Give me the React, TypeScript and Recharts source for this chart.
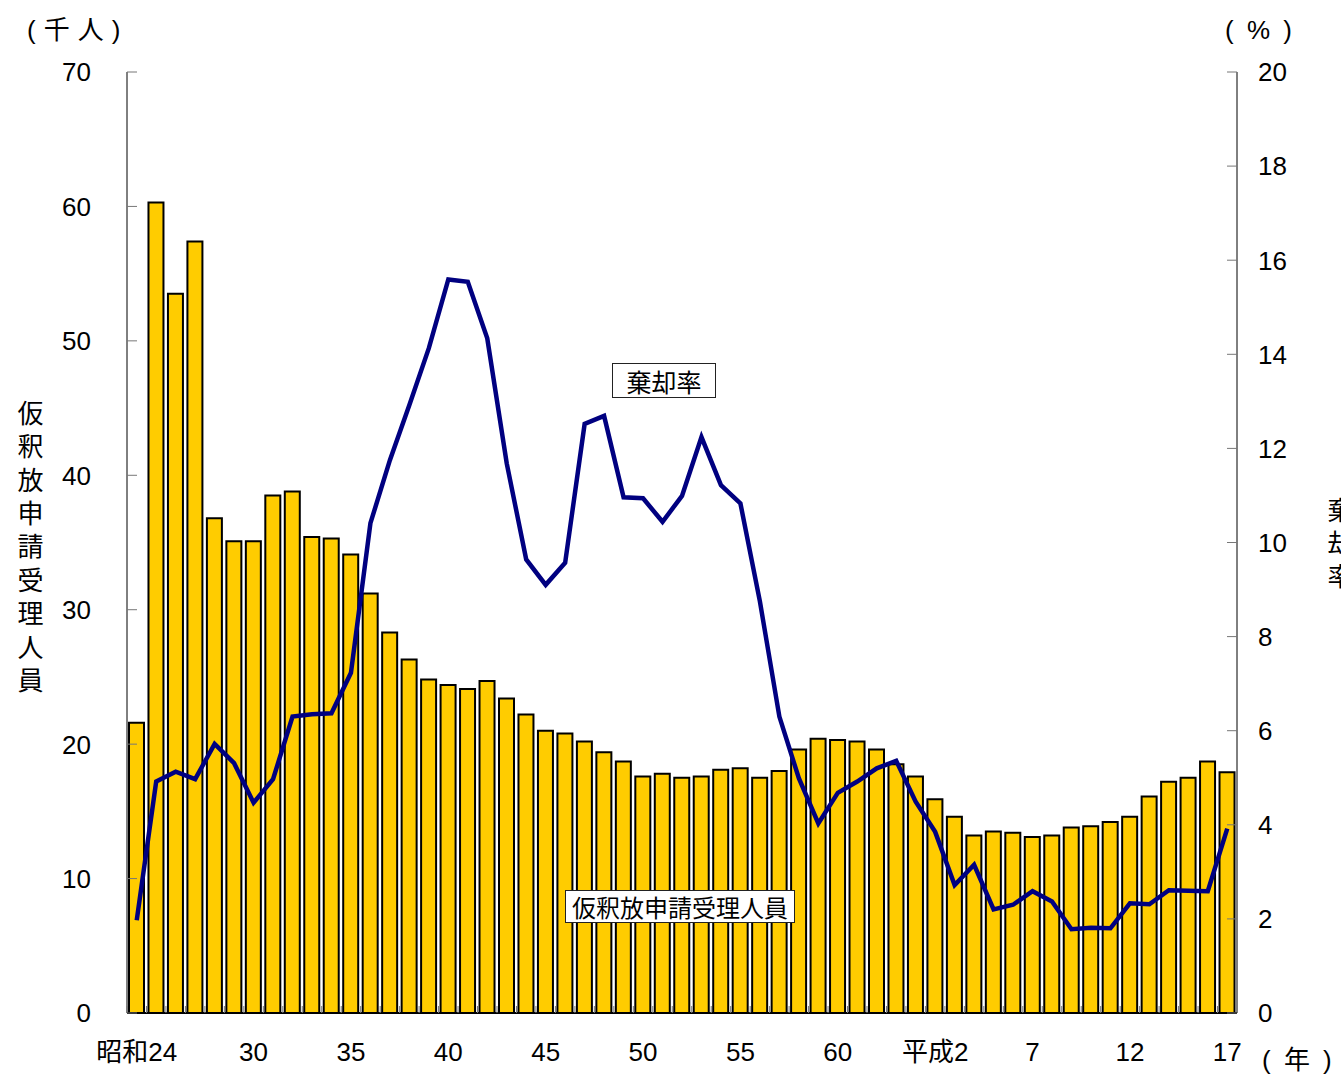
import React from 'react'
import { ComposedChart, Bar, Line, XAxis, YAxis } from 'recharts'

const years = [
    '昭和24', '昭和25', '昭和26', '昭和27', '昭和28', '昭和29', '昭和30', '昭和31', '昭和32', '昭和33',
    '昭和34', '昭和35', '昭和36', '昭和37', '昭和38', '昭和39', '昭和40', '昭和41', '昭和42', '昭和43',
    '昭和44', '昭和45', '昭和46', '昭和47', '昭和48', '昭和49', '昭和50', '昭和51', '昭和52', '昭和53',
    '昭和54', '昭和55', '昭和56', '昭和57', '昭和58', '昭和59', '昭和60', '昭和61', '昭和62', '昭和63',
    '平成元', '平成2', '平成3', '平成4', '平成5', '平成6', '平成7', '平成8', '平成9', '平成10',
    '平成11', '平成12', '平成13', '平成14', '平成15', '平成16', '平成17',
]

// 仮釈放申請受理人員 (千人)
const applicants = [
    21.6, 60.3, 53.5, 57.4, 36.8, 35.1, 35.1, 38.5, 38.8, 35.4,
    35.3, 34.1, 31.2, 28.3, 26.3, 24.8, 24.4, 24.1, 24.7, 23.4,
    22.2, 21.0, 20.8, 20.2, 19.4, 18.7, 17.6, 17.8, 17.5, 17.6,
    18.1, 18.2, 17.5, 18.0, 19.6, 20.4, 20.3, 20.2, 19.6, 18.5,
    17.6, 15.9, 14.6, 13.2, 13.5, 13.4, 13.1, 13.2, 13.8, 13.9,
    14.2, 14.6, 16.1, 17.2, 17.5, 18.7, 17.9,
]

// 棄却率 (%)
const rejectionRate = [
    1.97, 4.92, 5.13, 4.97, 5.72, 5.31, 4.47, 4.97, 6.30, 6.35,
    6.37, 7.23, 10.41, 11.75, 12.92, 14.13, 15.59, 15.54, 14.34, 11.68,
    9.64, 9.10, 9.57, 12.52, 12.69, 10.96, 10.94, 10.44, 10.99, 12.24,
    11.22, 10.83, 8.75, 6.30, 4.99, 4.03, 4.68, 4.92, 5.20, 5.36,
    4.49, 3.85, 2.72, 3.15, 2.20, 2.30, 2.59, 2.37, 1.78, 1.81,
    1.80, 2.33, 2.31, 2.61, 2.60, 2.59, 3.92,
]

const labelYears = ['昭和24', '昭和30', '昭和35', '昭和40', '昭和45', '昭和50', '昭和55', '昭和60', '平成2', '平成7', '平成12', '平成17']
const labelTexts = ['昭和24', '30', '35', '40', '45', '50', '55', '60', '平成2', '7', '12', '17']

const leftTicks = [0, 10, 20, 30, 40, 50, 60, 70]
const rightTicks = [0, 2, 4, 6, 8, 10, 12, 14, 16, 18, 20]

const data = years.map((year, i) => ({ year, applicants: applicants[i], rate: rejectionRate[i] }))

const FONT = "'Liberation Sans', Arial, 'Noto Sans CJK JP', sans-serif"
const X_MARGIN = 30
const Y_MARGIN = 36
const R_MARGIN = 21

const XTick = (props: any) => {
    const { x, y, payload } = props
    const idx = labelYears.indexOf(payload.value)
    const half = payload.offset || 0
    const axisY = y - X_MARGIN
    return (
        <g>
            <line x1={x - half} x2={x - half} y1={axisY} y2={axisY - 7} stroke="#777" />
            {idx >= 0 && (
                <text x={x} y={y} dy="0.71em" textAnchor="middle" fill="#000" fontSize={26} fontFamily={FONT}>
                    {labelTexts[idx]}
                </text>
            )}
        </g>
    )
}

const LeftTick = (props: any) => {
    const { x, y, payload } = props
    return (
        <g>
            <line x1={x + Y_MARGIN} x2={x + Y_MARGIN + 10} y1={y} y2={y} stroke="#777" />
            <text x={x} y={y} dy="0.36em" textAnchor="end" fill="#000" fontSize={26} fontFamily={FONT}>
                {payload.value}
            </text>
        </g>
    )
}

const RightTick = (props: any) => {
    const { x, y, payload } = props
    return (
        <g>
            <line x1={x - R_MARGIN - 10} x2={x - R_MARGIN} y1={y} y2={y} stroke="#777" />
            <text x={x} y={y} dy="0.36em" textAnchor="start" fill="#000" fontSize={26} fontFamily={FONT}>
                {payload.value}
            </text>
        </g>
    )
}

const boxLabel: React.CSSProperties = {
    position: 'absolute',
    border: '1.5px solid #222',
    background: '#fff',
    display: 'flex',
    alignItems: 'center',
    justifyContent: 'center',
    boxSizing: 'border-box',
    whiteSpace: 'nowrap',
}

export default function App() {
    return (
        <div style={{ position: 'relative', width: 1341, height: 1074, overflow: 'hidden', background: '#fff', fontFamily: FONT, color: '#000' }}>
            <style>{'body{margin:0;overflow:hidden}'}</style>
            <ComposedChart width={1341} height={1074} data={data} margin={{ top: 72, right: 0, bottom: 0, left: 0 }}>
                <XAxis
                    dataKey="year"
                    xAxisId="x"
                    height={61}
                    interval={0}
                    tickSize={0}
                    tickMargin={X_MARGIN}
                    tick={<XTick />}
                    axisLine={{ stroke: '#000', strokeWidth: 2 }}
                    tickLine={false}
                />
                <YAxis
                    yAxisId="left"
                    orientation="left"
                    width={127}
                    domain={[0, 70]}
                    ticks={leftTicks}
                    tickSize={0}
                    tickMargin={Y_MARGIN}
                    tick={<LeftTick />}
                    axisLine={{ stroke: '#000' }}
                    tickLine={false}
                />
                <YAxis
                    yAxisId="right"
                    orientation="right"
                    width={104}
                    domain={[0, 20]}
                    ticks={rightTicks}
                    tickSize={0}
                    tickMargin={R_MARGIN}
                    tick={<RightTick />}
                    axisLine={{ stroke: '#000' }}
                    tickLine={false}
                />
                <Bar
                    xAxisId="x"
                    yAxisId="left"
                    dataKey="applicants"
                    barSize={15}
                    fill="#FFCC00"
                    stroke="#000"
                    strokeWidth={2}
                    isAnimationActive={false}
                />
                <Line
                    xAxisId="x"
                    yAxisId="right"
                    dataKey="rate"
                    type="linear"
                    stroke="#000080"
                    strokeWidth={4.5}
                    dot={false}
                    isAnimationActive={false}
                />
            </ComposedChart>

            <div style={{ position: 'absolute', left: 27, top: 17, fontSize: 26, lineHeight: '26px', letterSpacing: 8 }}>(千人)</div>
            <div style={{ position: 'absolute', left: 1225, top: 17, fontSize: 26, lineHeight: '26px', letterSpacing: 3 }}>( % )</div>
            <div style={{ position: 'absolute', left: 1262, top: 1047, fontSize: 26, lineHeight: '26px', letterSpacing: 3 }}>( 年 )</div>

            <div style={{ position: 'absolute', left: 15, top: 400, fontSize: 26, lineHeight: '26px', writingMode: 'vertical-rl', letterSpacing: 7.4 }}>
                仮釈放申請受理人員
            </div>
            <div style={{ position: 'absolute', left: 1325, top: 497, fontSize: 26, lineHeight: '26px', writingMode: 'vertical-rl', letterSpacing: 7 }}>
                棄却率
            </div>

            <div style={{ ...boxLabel, left: 612, top: 363, width: 104, height: 35, fontSize: 25 }}>棄却率</div>
            <div style={{ ...boxLabel, left: 565, top: 890, width: 230, height: 33, fontSize: 24 }}>仮釈放申請受理人員</div>
        </div>
    )
}
